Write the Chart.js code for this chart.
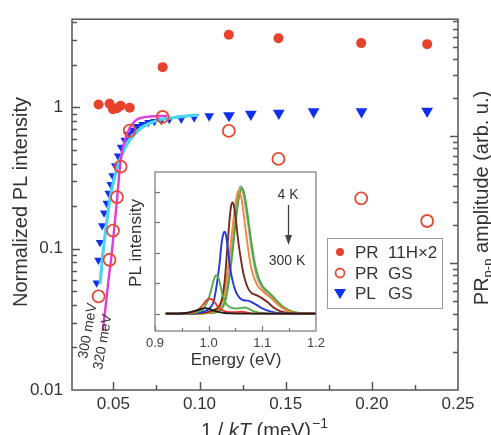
<!DOCTYPE html>
<html>
<head>
<meta charset="UTF-8" />
<script src="https://cdn.jsdelivr.net/npm/chart.js@4.4.0/dist/chart.umd.min.js"></script>
<style>
  html, body { margin: 0; padding: 0; background: #fff; }
  #wrap { position: relative; width: 491px; height: 435px; overflow: hidden; }
  #mainChart { position: absolute; left: 0; top: 0; }
  #insetChart { position: absolute; left: 115px; top: 160px; }
</style>
</head>
<body>
<div id="wrap">
  <canvas id="mainChart" width="491" height="435"></canvas>
  <canvas id="insetChart" width="215" height="220"></canvas>
</div>
<script>
// ---- main panel: 1/kT in meV^-1 ----
// PR amplitudes (right axis, arb. u.)
const prInvKT = [0.0414, 0.0478, 0.0498, 0.0521, 0.0542, 0.0595, 0.0786, 0.1170, 0.1458, 0.1938, 0.2321];
const pr11H   = [17.7, 17.9, 16.2, 16.5, 17.3, 16.7, 34.8, 62.7, 58.8, 53.8, 52.8];
const prGS    = [0.545, 1.06, 1.80, 3.30, 5.74, 11.0, 14.1, 10.95, 6.59, 3.23, 2.14];

// normalized PL intensity of the ground state (left axis)
const plInvKT = [0.0403, 0.0413, 0.0422, 0.0435, 0.0446, 0.0461, 0.0472, 0.0484, 0.0495, 0.0510,
                 0.0527, 0.0544, 0.0565, 0.0588, 0.0611, 0.0640, 0.0669, 0.0703, 0.0738, 0.0778,
                 0.0825, 0.0894, 0.0969, 0.1056, 0.1171, 0.1298, 0.1460, 0.1662, 0.1940, 0.2321];
const plGS    = [0.0573, 0.0829, 0.1106, 0.1453, 0.179, 0.210, 0.2465, 0.2847, 0.329, 0.386,
                 0.453, 0.523, 0.586, 0.645, 0.688, 0.733, 0.757, 0.781, 0.794, 0.807,
                 0.820, 0.833, 0.853, 0.867, 0.874, 0.895, 0.910, 0.932, 0.932, 0.939];

// activation fits: 300 meV on PL, 320 meV on PR GS
const fit300InvKT = [0.0423, 0.0440, 0.0458, 0.0478, 0.0498, 0.0519, 0.0542, 0.0568, 0.0599, 0.0634,
                     0.0675, 0.0721, 0.0778, 0.0848, 0.0923, 0.0992];
const fit300      = [0.0564, 0.0942, 0.1429, 0.2169, 0.2893, 0.362, 0.4387, 0.515, 0.595, 0.666,
                     0.733, 0.781, 0.820, 0.846, 0.867, 0.881];
const fit320InvKT = [0.0438, 0.0455, 0.0472, 0.0490, 0.0507, 0.0521, 0.0537, 0.0550, 0.0566, 0.0595,
                     0.0622, 0.0646, 0.0703, 0.0761, 0.0813];
const fit320      = [0.2905, 0.4538, 0.734, 1.168, 1.994, 3.114, 5.51, 7.46, 9.17, 11.56,
                     12.97, 13.69, 14.18, 14.31, 14.44];

const xTickValues = [0.05, 0.10, 0.15, 0.20, 0.25];
const yTickValues = [0.01, 0.1, 1];

// ---- inset: PL spectra from 4 K to 300 K, [energy eV, intensity] ----
const spec4K = [[0.92,0],[0.98,0],[1.0,0.02],[1.01,0.04],[1.02,0.12],[1.025,0.22],[1.03,0.45],[1.035,0.95],[1.04,1.6],[1.045,2.4],[1.05,3.2],[1.054,3.75],[1.057,4.07],[1.0595,4.18],[1.062,4.12],[1.066,3.8],[1.07,3.35],[1.075,2.75],[1.08,2.1],[1.09,1.2],[1.1,0.85],[1.11,0.65],[1.12,0.5],[1.13,0.32],[1.14,0.18],[1.16,0.04],[1.2,0]];
const specT2 = [[0.92,0],[0.98,0],[1.0,0.02],[1.01,0.03],[1.02,0.1],[1.025,0.18],[1.03,0.35],[1.035,0.75],[1.04,1.35],[1.045,2.1],[1.05,2.95],[1.055,3.65],[1.059,4.02],[1.062,4.12],[1.065,4.03],[1.068,3.8],[1.073,3.2],[1.078,2.55],[1.084,1.85],[1.09,1.35],[1.1,0.92],[1.11,0.73],[1.12,0.56],[1.13,0.37],[1.14,0.21],[1.16,0.05],[1.2,0]];
const specT3 = [[0.92,0],[0.98,0],[0.99,0.01],[1.0,0.03],[1.01,0.07],[1.02,0.2],[1.025,0.38],[1.03,0.75],[1.035,1.35],[1.04,2.1],[1.045,2.9],[1.05,3.6],[1.053,3.92],[1.0555,4.03],[1.058,3.97],[1.062,3.7],[1.065,3.3],[1.07,2.6],[1.075,1.95],[1.08,1.45],[1.09,0.95],[1.1,0.75],[1.11,0.6],[1.12,0.45],[1.13,0.28],[1.14,0.15],[1.16,0.03],[1.2,0]];
const specT4 = [[0.92,0],[0.97,0],[0.98,0.01],[0.99,0.03],[1.0,0.06],[1.01,0.12],[1.02,0.25],[1.025,0.5],[1.03,1.1],[1.035,2.2],[1.039,3.1],[1.042,3.55],[1.0445,3.65],[1.047,3.55],[1.05,3.2],[1.055,2.4],[1.06,1.8],[1.065,1.3],[1.07,0.98],[1.075,0.78],[1.08,0.68],[1.09,0.6],[1.1,0.5],[1.11,0.37],[1.12,0.22],[1.13,0.11],[1.14,0.05],[1.16,0.01],[1.2,0]];
const specT5 = [[0.92,0],[0.95,0],[0.97,0.01],[0.98,0.03],[0.99,0.07],[1.0,0.15],[1.01,0.45],[1.02,1.6],[1.024,2.3],[1.027,2.6],[1.0295,2.69],[1.032,2.6],[1.035,2.25],[1.04,1.5],[1.045,1.05],[1.05,0.75],[1.055,0.58],[1.06,0.48],[1.065,0.44],[1.07,0.43],[1.075,0.42],[1.08,0.38],[1.09,0.28],[1.1,0.17],[1.11,0.1],[1.12,0.05],[1.13,0.02],[1.14,0.01],[1.16,0],[1.2,0]];
const specT6 = [[0.92,0],[0.95,0],[0.97,0.02],[0.98,0.06],[0.99,0.15],[0.995,0.3],[1.0,0.5],[1.005,0.8],[1.009,1.08],[1.012,1.22],[1.0145,1.26],[1.017,1.22],[1.021,1.0],[1.025,0.68],[1.03,0.4],[1.035,0.27],[1.04,0.21],[1.05,0.17],[1.06,0.18],[1.067,0.2],[1.075,0.16],[1.08,0.11],[1.09,0.05],[1.1,0.02],[1.11,0],[1.2,0]];
const specT7 = [[0.92,0],[0.95,0],[0.96,0.01],[0.97,0.04],[0.98,0.12],[0.99,0.3],[0.996,0.44],[1.002,0.49],[1.008,0.44],[1.015,0.28],[1.02,0.17],[1.03,0.08],[1.04,0.05],[1.05,0.05],[1.06,0.06],[1.07,0.04],[1.08,0.01],[1.09,0],[1.2,0]];
const spec300K = [[0.92,0],[0.94,0],[0.96,0.03],[0.97,0.07],[0.98,0.12],[0.993,0.18],[1.0,0.16],[1.01,0.1],[1.02,0.05],[1.03,0.02],[1.04,0.01],[1.06,0],[1.2,0]];
const insetXTicks = [0.9, 1.0, 1.1, 1.2];

Chart.defaults.font.family = '"Liberation Sans", Arial, sans-serif';
const FONT = '"Liberation Sans", Arial, sans-serif';

function pairs(xs, ys) { return xs.map((x, i) => ({ x: x, y: ys[i] })); }
function specData(s) { return s.map(p => ({ x: p[0], y: p[1] })); }

function logMinors(lo, hi) {
  const out = [];
  for (let d = lo; d < hi; d *= 10)
    for (let k = 2; k <= 9; k++) out.push(k * d);
  return out;
}

// frame around the plot area plus inward tick marks
function frameTicks(spec) {
  return {
    id: 'frameTicks',
    beforeDraw(chart) {
      if (!spec.fill) return;
      const a = chart.chartArea, ctx = chart.ctx;
      ctx.save();
      ctx.fillStyle = spec.fill;
      ctx.fillRect(a.left, a.top, a.right - a.left, a.bottom - a.top);
      ctx.restore();
    },
    afterDatasetsDraw(chart) {
      const a = chart.chartArea, ctx = chart.ctx;
      ctx.save();
      ctx.strokeStyle = spec.color;
      ctx.lineWidth = spec.width;
      spec.ticks.forEach(t => {
        const s = chart.scales[t.axis];
        t.values.forEach(v => {
          const p = Math.round(s.getPixelForValue(v)) + 0.5;
          ctx.beginPath();
          if (t.side === 'left' || t.side === 'right') {
            if (p < a.top || p > a.bottom) return;
            const x0 = t.side === 'left' ? a.left : a.right;
            const dir = t.side === 'left' ? 1 : -1;
            ctx.moveTo(x0, p); ctx.lineTo(x0 + dir * t.len, p);
          } else {
            if (p < a.left || p > a.right) return;
            ctx.moveTo(p, a.bottom); ctx.lineTo(p, a.bottom - t.len);
          }
          ctx.stroke();
        });
      });
      ctx.strokeRect(a.left, a.top, a.right - a.left, a.bottom - a.top);
      ctx.restore();
    }
  };
}

// titles, fit labels and legend of the main panel
const mainText = {
  id: 'mainText',
  afterDraw(chart) {
    const ctx = chart.ctx;
    ctx.save();
    ctx.fillStyle = '#333';

    // left axis title
    ctx.save();
    ctx.translate(21, 202);
    ctx.rotate(-Math.PI / 2);
    ctx.font = '20px ' + FONT;
    ctx.textAlign = 'center';
    ctx.textBaseline = 'middle';
    ctx.fillText('Normalized PL intensity', 0, 0);
    ctx.restore();

    // right axis title: PR_p-p amplitude (arb. u.)
    ctx.save();
    ctx.translate(488, 198);
    ctx.rotate(-Math.PI / 2);
    ctx.textBaseline = 'alphabetic';
    ctx.textAlign = 'left';
    ctx.font = '20px ' + FONT;
    const w1 = ctx.measureText('PR').width;
    const w3 = ctx.measureText(' amplitude (arb. u.)').width;
    ctx.font = '13px ' + FONT;
    const w2 = ctx.measureText('p-p').width;
    const x0 = -(w1 + w2 + w3) / 2;
    ctx.font = '20px ' + FONT;
    ctx.fillText('PR', x0, 0);
    ctx.font = '13px ' + FONT;
    ctx.fillText('p-p', x0 + w1, 4);
    ctx.font = '20px ' + FONT;
    ctx.fillText(' amplitude (arb. u.)', x0 + w1 + w2, 0);
    ctx.restore();

    // bottom axis title: 1 / kT (meV)^-1
    ctx.textBaseline = 'alphabetic';
    ctx.textAlign = 'left';
    let x = 201;
    const yb = 437;
    ctx.font = '20px ' + FONT;
    ctx.fillText('1 / ', x, yb); x += ctx.measureText('1 / ').width;
    ctx.font = 'italic 20px ' + FONT;
    ctx.fillText('kT', x, yb); x += ctx.measureText('kT').width;
    ctx.font = '20px ' + FONT;
    ctx.fillText(' (meV)', x, yb); x += ctx.measureText(' (meV)').width;
    ctx.font = '14px ' + FONT;
    ctx.fillText('\u22121', x + 1, yb - 9);

    // fit labels along the steep part
    ctx.font = '14px ' + FONT;
    ctx.textAlign = 'center';
    ctx.textBaseline = 'middle';
    [['300 meV', 88, 331], ['320 meV', 103, 342]].forEach(l => {
      ctx.save();
      ctx.translate(l[1], l[2]);
      ctx.rotate(-80 * Math.PI / 180);
      ctx.fillText(l[0], 0, 0);
      ctx.restore();
    });

    // legend box
    ctx.strokeStyle = '#999';
    ctx.lineWidth = 1;
    ctx.strokeRect(327.5, 238.5, 115, 70);
    ctx.font = '17px ' + FONT;
    ctx.textAlign = 'left';
    ctx.textBaseline = 'middle';
    const rows = [[252, 'PR', '11H\u00d72'], [273, 'PR', 'GS'], [293, 'PL', 'GS']];
    rows.forEach((r, i) => {
      const y = r[0];
      if (i === 0) {
        ctx.fillStyle = '#e8412c';
        ctx.beginPath(); ctx.arc(340, y, 4, 0, 2 * Math.PI); ctx.fill();
      } else if (i === 1) {
        ctx.strokeStyle = '#e64a33'; ctx.lineWidth = 1.8;
        ctx.beginPath(); ctx.arc(340, y, 4.5, 0, 2 * Math.PI); ctx.stroke();
      } else {
        ctx.fillStyle = '#1030f0';
        ctx.beginPath(); ctx.moveTo(334, y - 4); ctx.lineTo(346, y - 4); ctx.lineTo(340, y + 6); ctx.closePath(); ctx.fill();
      }
      ctx.fillStyle = '#333';
      ctx.fillText(r[1], 355, y + 1);
      ctx.fillText(r[2], 388, y + 1);
    });
    ctx.restore();
  }
};

const plRadius = c => {
  const v = c.raw ? c.raw.x : 0;
  return v > 0.11 ? 6.8 : (v > 0.085 ? 5.6 : 4.8);
};

new Chart(document.getElementById('mainChart'), {
  type: 'scatter',
  data: {
    datasets: [
      { label: 'PR GS', data: pairs(prInvKT, prGS), yAxisID: 'y2', order: 0,
        pointStyle: 'circle', pointRadius: 6, pointBorderWidth: 1.8,
        borderColor: '#e64a33', backgroundColor: 'rgba(0,0,0,0)' },
      { label: '320 meV', type: 'line', data: pairs(fit320InvKT, fit320), yAxisID: 'y2', order: 1,
        showLine: true, pointRadius: 0, borderColor: '#e33bd8', borderWidth: 2.4,
        cubicInterpolationMode: 'monotone', fill: false },
      { label: '300 meV', type: 'line', data: pairs(fit300InvKT, fit300), yAxisID: 'y', order: 2,
        showLine: true, pointRadius: 0, borderColor: '#4dd3f3', borderWidth: 3.2,
        cubicInterpolationMode: 'monotone', fill: false },
      { label: 'PL GS', data: pairs(plInvKT, plGS), yAxisID: 'y', order: 3,
        pointStyle: 'triangle', rotation: 180, pointRadius: plRadius, pointBorderWidth: 0,
        backgroundColor: '#1030f0', borderColor: '#1030f0' },
      { label: 'PR 11Hx2', data: pairs(prInvKT, pr11H), yAxisID: 'y2', order: 4,
        pointStyle: 'circle', pointRadius: 5, pointBorderWidth: 0,
        backgroundColor: '#e8412c', borderColor: '#e8412c' }
    ]
  },
  options: {
    responsive: false,
    animation: false,
    devicePixelRatio: 1,
    layout: { padding: { top: 13, left: 0, right: 0, bottom: 0 } },
    plugins: { legend: { display: false }, tooltip: { enabled: false } },
    scales: {
      x: {
        type: 'linear', min: 0.026, max: 0.25,
        grid: { display: false, drawTicks: false }, border: { display: false },
        ticks: { font: { size: 17 }, color: '#333', padding: 4, maxRotation: 0, autoSkip: false,
                 callback: v => v.toFixed(2) },
        afterBuildTicks: s => { s.ticks = xTickValues.map(v => ({ value: v })); },
        afterFit: s => { s.height = 45; }
      },
      y: {
        type: 'logarithmic', position: 'left', min: 0.01, max: 4.2,
        grid: { display: false, drawTicks: false }, border: { display: false },
        ticks: { font: { size: 17 }, color: '#333', padding: 9, autoSkip: false,
                 callback: v => String(v) },
        afterBuildTicks: s => { s.ticks = yTickValues.map(v => ({ value: v })); },
        afterFit: s => { s.width = 72; }
      },
      y2: {
        type: 'logarithmic', position: 'right', min: 0.1, max: 83,
        grid: { display: false, drawTicks: false }, border: { display: false },
        ticks: { display: false },
        afterFit: s => { s.width = 33; }
      }
    }
  },
  plugins: [frameTicks({
    color: '#555', width: 1.5,
    ticks: [
      { axis: 'y', side: 'left', len: 8, values: yTickValues },
      { axis: 'y', side: 'left', len: 5, values: logMinors(0.01, 1).concat([2, 3, 4]) },
      { axis: 'y2', side: 'right', len: 8, values: [0.1, 1, 10] },
      { axis: 'y2', side: 'right', len: 5, values: logMinors(0.1, 10).concat([20, 30, 40, 50, 60, 70, 80]) },
      { axis: 'x', side: 'bottom', len: 8, values: xTickValues },
      { axis: 'x', side: 'bottom', len: 5, values: [0.075, 0.125, 0.175, 0.225] }
    ]
  }), mainText]
});

// ---- inset chart ----
const insetText = {
  id: 'insetText',
  afterDraw(chart) {
    const ctx = chart.ctx;
    ctx.save();
    ctx.fillStyle = '#333';
    ctx.strokeStyle = '#444';
    ctx.textAlign = 'center';
    ctx.textBaseline = 'middle';
    ctx.font = '14px ' + FONT;
    ctx.fillText('4 K', 173, 35);
    ctx.fillText('300 K', 172, 101);
    ctx.lineWidth = 1.3;
    ctx.beginPath(); ctx.moveTo(173.5, 45); ctx.lineTo(173.5, 78); ctx.stroke();
    ctx.fillStyle = '#444';
    ctx.beginPath(); ctx.moveTo(170, 75); ctx.lineTo(177, 75); ctx.lineTo(173.5, 85); ctx.closePath(); ctx.fill();

    ctx.fillStyle = '#333';
    ctx.font = '17px ' + FONT;
    ctx.fillText('Energy (eV)', 121, 200);
    ctx.save();
    ctx.translate(21, 83);
    ctx.rotate(-Math.PI / 2);
    ctx.fillText('PL intensity', 0, 0);
    ctx.restore();
    ctx.restore();
  }
};

const specSets = [
  [spec300K, '#1e1e1e'], [specT7, '#e53a2a'], [specT6, '#56ab45'], [specT5, '#2438dc'],
  [specT4, '#7a2a1c'], [specT3, '#f1893b'], [specT2, '#4aa83c'], [spec4K, '#a5a5a5']
];

new Chart(document.getElementById('insetChart'), {
  type: 'line',
  data: {
    datasets: specSets.map(s => ({
      data: specData(s[0]), borderColor: s[1], borderWidth: 1.9, pointRadius: 0,
      cubicInterpolationMode: 'monotone', fill: false
    }))
  },
  options: {
    responsive: false,
    animation: false,
    devicePixelRatio: 1,
    layout: { padding: { top: 12, left: 0, right: 13, bottom: 0 } },
    plugins: { legend: { display: false }, tooltip: { enabled: false } },
    scales: {
      x: {
        type: 'linear', min: 0.9, max: 1.2,
        grid: { display: false, drawTicks: false }, border: { display: false },
        ticks: { font: { size: 13 }, color: '#444', padding: 5, maxRotation: 0, autoSkip: false,
                 callback: v => v.toFixed(1) },
        afterBuildTicks: s => { s.ticks = insetXTicks.map(v => ({ value: v })); },
        afterFit: s => { s.height = 49; }
      },
      y: {
        type: 'linear', min: -0.57, max: 4.65,
        grid: { display: false, drawTicks: false }, border: { display: false },
        ticks: { display: false },
        afterFit: s => { s.width = 40; }
      }
    }
  },
  plugins: [frameTicks({
    color: '#777', width: 1.2, fill: '#fff',
    ticks: [
      { axis: 'y', side: 'left', len: 5, values: [0, 1, 2, 3, 4] },
      { axis: 'x', side: 'bottom', len: 5, values: insetXTicks },
      { axis: 'x', side: 'bottom', len: 3, values: [0.95, 1.05, 1.15] }
    ]
  }), insetText]
});
</script>
</body>
</html>
